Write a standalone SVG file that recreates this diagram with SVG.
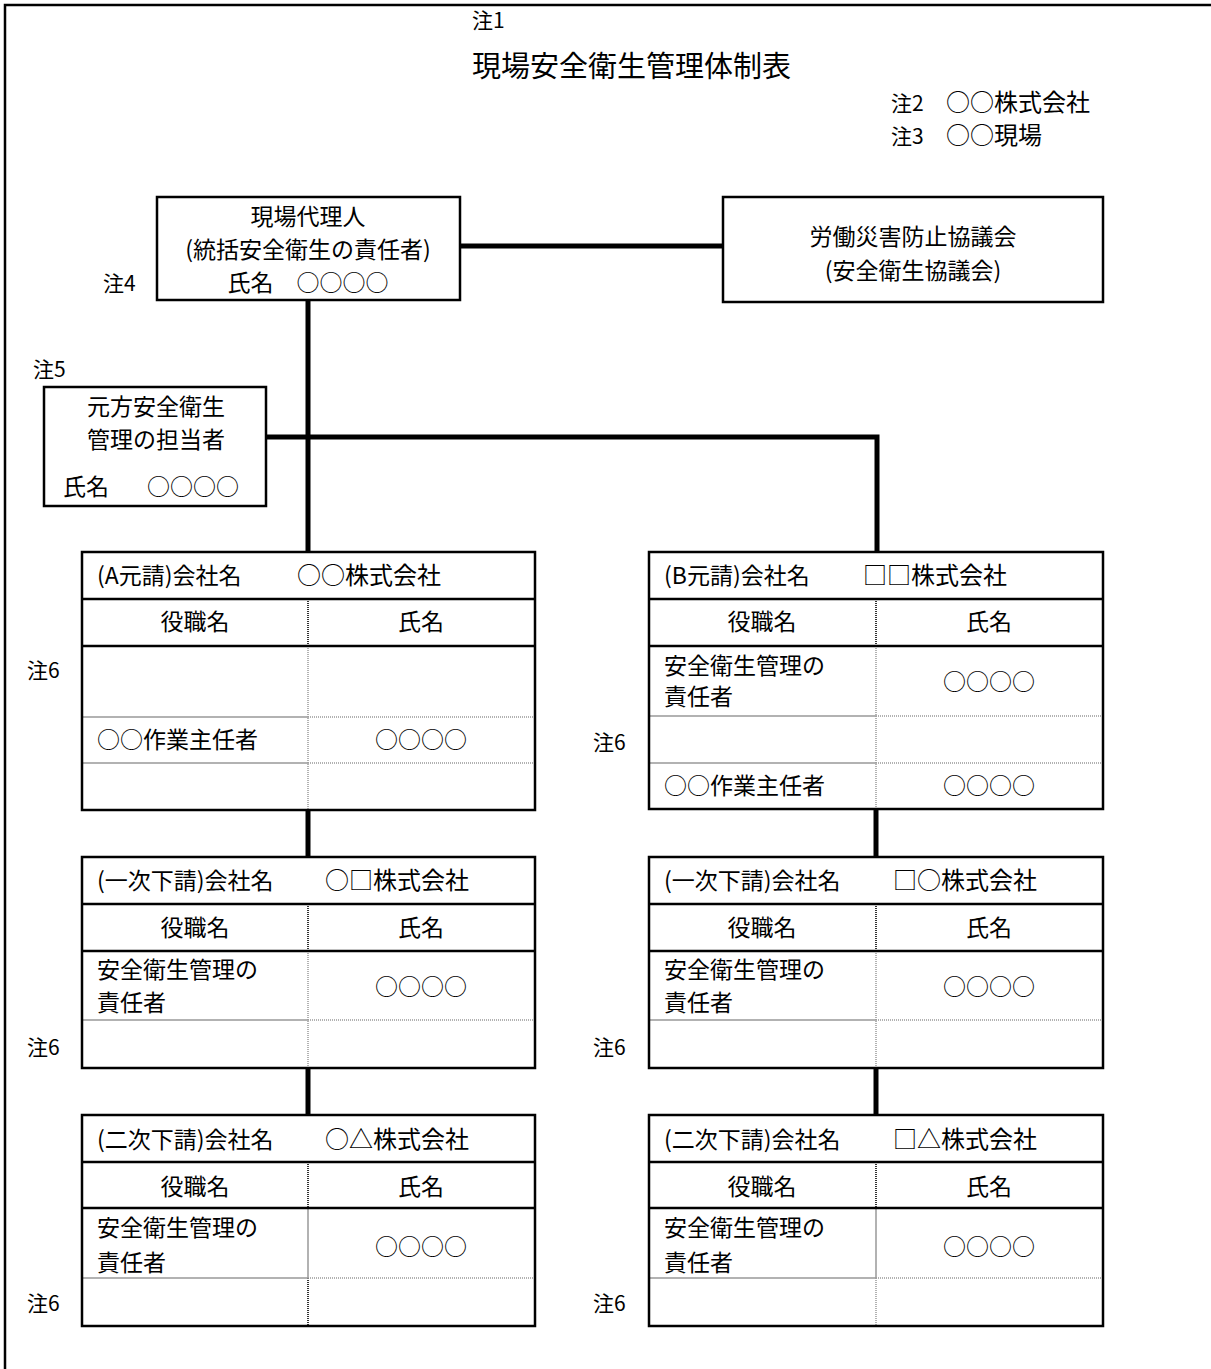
<svg xmlns="http://www.w3.org/2000/svg" width="1211" height="1369" viewBox="0 0 1211 1369">
<style>
.t{font-family:"Noto Sans CJK JP","Noto Sans CJK SC",sans-serif;font-size:23px;fill:#000}
.c{text-anchor:middle}
.title{font-size:29px}
.note{font-size:21px}
.big{font-size:24px}
.box{fill:#fff;stroke:#000;stroke-width:2.5}
.conn{fill:none;stroke:#000;stroke-width:5}
.hl{stroke:#000;stroke-width:2.5}
.gl{stroke:#999;stroke-width:1.5}
.gd{stroke:#999;stroke-width:1.5;stroke-dasharray:1 1}
.cd{stroke:#333;stroke-width:2;stroke-dasharray:1 1}
.frame{fill:none;stroke:#000;stroke-width:2.5}
</style>
<rect x="0" y="0" width="1211" height="1369" fill="#fff"/>
<rect class="frame" x="5" y="5" width="1230" height="1390"/>

<g id="header">
<text class="t note" x="472" y="28">注1</text>
<text class="t title" x="472" y="77">現場安全衛生管理体制表</text>
<text class="t note" x="891" y="111">注2</text>
<text class="t big" x="946" y="111">○○株式会社</text>
<text class="t note" x="891" y="144">注3</text>
<text class="t big" x="946" y="144">○○現場</text>
</g>

<g id="connectors">
<line class="conn" x1="460" y1="246" x2="723" y2="246"/>
<line class="conn" x1="308" y1="300" x2="308" y2="552"/>
<polyline class="conn" points="266,437 877,437 877,553"/>
<line class="conn" x1="308" y1="810" x2="308" y2="857"/>
<line class="conn" x1="308" y1="1068" x2="308" y2="1115"/>
<line class="conn" x1="876" y1="809" x2="876" y2="857"/>
<line class="conn" x1="876" y1="1068" x2="876" y2="1115"/>
</g>

<g id="genba-dairinin">
<rect class="box" x="157" y="197" width="303" height="103"/>
<text class="t c" x="308" y="225">現場代理人</text>
<text class="t c" x="308" y="258">(統括安全衛生の責任者)</text>
<text class="t c" x="308" y="291">氏名　○○○○</text>
<text class="t note" x="103" y="291">注4</text>
</g>

<g id="kyogikai">
<rect class="box" x="723" y="197" width="380" height="105"/>
<text class="t c" x="913" y="245">労働災害防止協議会</text>
<text class="t c" x="913" y="279">(安全衛生協議会)</text>
</g>

<g id="motokata">
<rect class="box" x="44" y="387" width="222" height="119"/>
<text class="t c" x="156" y="415">元方安全衛生</text>
<text class="t c" x="156" y="448">管理の担当者</text>
<text class="t" x="63" y="495">氏名</text>
<text class="t" x="147" y="495">○○○○</text>
<text class="t note" x="33" y="377">注5</text>
</g>

<g id="table-a" transform="translate(82,552)">
<line class="cd" x1="226" y1="47" x2="226" y2="94"/>
<line class="gd" x1="226" y1="94" x2="226" y2="258"/>
<line class="gl" x1="0" y1="165" x2="226" y2="165"/>
<line class="gd" x1="226" y1="165" x2="453" y2="165"/>
<line class="gl" x1="0" y1="211" x2="226" y2="211"/>
<line class="gd" x1="226" y1="211" x2="453" y2="211"/>
<line class="hl" x1="0" y1="47" x2="453" y2="47"/>
<line class="hl" x1="0" y1="94" x2="453" y2="94"/>
<rect class="frame" x="0" y="0" width="453" height="258"/>
<text class="t" x="15" y="32">(A元請)会社名</text>
<text class="t big" x="215" y="32">○○株式会社</text>
<text class="t c" x="113" y="78">役職名</text>
<text class="t c" x="339" y="78">氏名</text>
<text class="t" x="15" y="196">○○作業主任者</text>
<text class="t c" x="339" y="196">○○○○</text>
</g>
<text class="t note" x="27" y="678">注6</text>

<g id="table-b" transform="translate(649,552)">
<line class="cd" x1="227" y1="47" x2="227" y2="94"/>
<line class="gd" x1="227" y1="94" x2="227" y2="257"/>
<line class="gl" x1="0" y1="164" x2="227" y2="164"/>
<line class="gd" x1="227" y1="164" x2="454" y2="164"/>
<line class="gl" x1="0" y1="211" x2="227" y2="211"/>
<line class="gd" x1="227" y1="211" x2="454" y2="211"/>
<line class="hl" x1="0" y1="47" x2="454" y2="47"/>
<line class="hl" x1="0" y1="94" x2="454" y2="94"/>
<rect class="frame" x="0" y="0" width="454" height="257"/>
<text class="t" x="15" y="32">(B元請)会社名</text>
<text class="t big" x="214" y="32">□□株式会社</text>
<text class="t c" x="113" y="78">役職名</text>
<text class="t c" x="340" y="78">氏名</text>
<text class="t" x="15" y="122">安全衛生管理の</text>
<text class="t" x="15" y="153">責任者</text>
<text class="t c" x="340" y="138">○○○○</text>
<text class="t" x="15" y="242">○○作業主任者</text>
<text class="t c" x="340" y="242">○○○○</text>
</g>
<text class="t note" x="593" y="750">注6</text>

<g id="table-a1" transform="translate(82,857)">
<line class="cd" x1="226" y1="47" x2="226" y2="94"/>
<line class="gd" x1="226" y1="94" x2="226" y2="211"/>
<line class="gl" x1="0" y1="163" x2="226" y2="163"/>
<line class="gd" x1="226" y1="163" x2="453" y2="163"/>
<line class="hl" x1="0" y1="47" x2="453" y2="47"/>
<line class="hl" x1="0" y1="94" x2="453" y2="94"/>
<rect class="frame" x="0" y="0" width="453" height="211"/>
<text class="t" x="15" y="32">(一次下請)会社名</text>
<text class="t big" x="243" y="32">○□株式会社</text>
<text class="t c" x="113" y="79">役職名</text>
<text class="t c" x="339" y="79">氏名</text>
<text class="t" x="15" y="121">安全衛生管理の</text>
<text class="t" x="15" y="154">責任者</text>
<text class="t c" x="339" y="138">○○○○</text>
</g>
<text class="t note" x="27" y="1055">注6</text>

<g id="table-b1" transform="translate(649,857)">
<line class="cd" x1="227" y1="47" x2="227" y2="94"/>
<line class="gd" x1="227" y1="94" x2="227" y2="211"/>
<line class="gl" x1="0" y1="163" x2="227" y2="163"/>
<line class="gd" x1="227" y1="163" x2="454" y2="163"/>
<line class="hl" x1="0" y1="47" x2="454" y2="47"/>
<line class="hl" x1="0" y1="94" x2="454" y2="94"/>
<rect class="frame" x="0" y="0" width="454" height="211"/>
<text class="t" x="15" y="32">(一次下請)会社名</text>
<text class="t big" x="244" y="32">□○株式会社</text>
<text class="t c" x="113" y="79">役職名</text>
<text class="t c" x="340" y="79">氏名</text>
<text class="t" x="15" y="121">安全衛生管理の</text>
<text class="t" x="15" y="154">責任者</text>
<text class="t c" x="340" y="138">○○○○</text>
</g>
<text class="t note" x="593" y="1055">注6</text>

<g id="table-a2" transform="translate(82,1115)">
<line class="cd" x1="226" y1="47" x2="226" y2="93"/>
<line class="gl" x1="226" y1="93" x2="226" y2="163"/>
<line class="cd" x1="226" y1="163" x2="226" y2="211"/>
<line class="gl" x1="0" y1="163" x2="226" y2="163"/>
<line class="gd" x1="226" y1="163" x2="453" y2="163"/>
<line class="hl" x1="0" y1="47" x2="453" y2="47"/>
<line class="hl" x1="0" y1="93" x2="453" y2="93"/>
<rect class="frame" x="0" y="0" width="453" height="211"/>
<text class="t" x="15" y="33">(二次下請)会社名</text>
<text class="t big" x="243" y="33">○△株式会社</text>
<text class="t c" x="113" y="80">役職名</text>
<text class="t c" x="339" y="80">氏名</text>
<text class="t" x="15" y="121">安全衛生管理の</text>
<text class="t" x="15" y="156">責任者</text>
<text class="t c" x="339" y="140">○○○○</text>
</g>
<text class="t note" x="27" y="1311">注6</text>

<g id="table-b2" transform="translate(649,1115)">
<line class="cd" x1="227" y1="47" x2="227" y2="93"/>
<line class="gl" x1="227" y1="93" x2="227" y2="163"/>
<line class="gd" x1="227" y1="163" x2="227" y2="211"/>
<line class="gl" x1="0" y1="163" x2="227" y2="163"/>
<line class="gd" x1="227" y1="163" x2="454" y2="163"/>
<line class="hl" x1="0" y1="47" x2="454" y2="47"/>
<line class="hl" x1="0" y1="93" x2="454" y2="93"/>
<rect class="frame" x="0" y="0" width="454" height="211"/>
<text class="t" x="15" y="33">(二次下請)会社名</text>
<text class="t big" x="244" y="33">□△株式会社</text>
<text class="t c" x="113" y="80">役職名</text>
<text class="t c" x="340" y="80">氏名</text>
<text class="t" x="15" y="121">安全衛生管理の</text>
<text class="t" x="15" y="156">責任者</text>
<text class="t c" x="340" y="140">○○○○</text>
</g>
<text class="t note" x="593" y="1311">注6</text>
</svg>
